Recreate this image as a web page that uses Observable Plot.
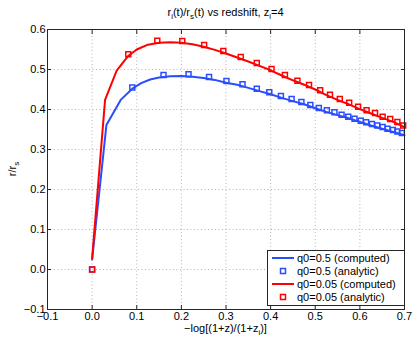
<!DOCTYPE html>
<html><head><meta charset="utf-8">
<script src="https://cdn.jsdelivr.net/npm/d3@7"></script>
<script src="https://cdn.jsdelivr.net/npm/@observablehq/plot@0.6"></script>
<style>body{margin:0;background:#fff} svg{display:block;overflow:visible}</style>
</head><body><div id="chart"></div>
<script>
const xTicks = [-0.1, 0, 0.1, 0.2, 0.3, 0.4, 0.5, 0.6, 0.7];
const yTicks = [-0.1, 0, 0.1, 0.2, 0.3, 0.4, 0.5, 0.6];

// q0=0.5 computed (blue line)
const blueLineX = [0, 0.032, 0.064, 0.090, 0.11, 0.13, 0.15, 0.175, 0.20, 0.225, 0.25, 0.275, 0.30, 0.325, 0.35, 0.375, 0.40, 0.425, 0.45, 0.475, 0.50, 0.525, 0.55, 0.575, 0.60, 0.625, 0.65, 0.675, 0.70];
const blueLineY = [0.025, 0.361, 0.424, 0.452, 0.466, 0.475, 0.480, 0.483, 0.484, 0.482, 0.479, 0.474, 0.467, 0.462, 0.454, 0.446, 0.438, 0.429, 0.421, 0.413, 0.403, 0.394, 0.386, 0.378, 0.369, 0.360, 0.352, 0.344, 0.336];
// q0=0.5 analytic (blue squares)
const blueDotX = [0, 0.090, 0.160, 0.216, 0.262, 0.301, 0.337, 0.369, 0.397, 0.423, 0.447, 0.469, 0.489, 0.508, 0.526, 0.543, 0.559, 0.574, 0.588, 0.602, 0.614, 0.627, 0.639, 0.651, 0.662, 0.674, 0.684, 0.694];
const blueDotY = [0, 0.455, 0.486, 0.488, 0.481, 0.471, 0.463, 0.452, 0.443, 0.434, 0.426, 0.419, 0.411, 0.404, 0.398, 0.393, 0.387, 0.382, 0.377, 0.372, 0.368, 0.364, 0.360, 0.356, 0.352, 0.349, 0.345, 0.341];
// q0=0.05 computed (red line)
const redLineX = [0, 0.029, 0.055, 0.080, 0.10, 0.125, 0.15, 0.175, 0.20, 0.225, 0.25, 0.275, 0.30, 0.325, 0.35, 0.375, 0.40, 0.425, 0.45, 0.475, 0.50, 0.525, 0.55, 0.575, 0.60, 0.625, 0.65, 0.675, 0.70];
const redLineY = [0.028, 0.424, 0.497, 0.533, 0.550, 0.562, 0.567, 0.568, 0.567, 0.563, 0.557, 0.549, 0.540, 0.530, 0.520, 0.509, 0.498, 0.485, 0.473, 0.462, 0.450, 0.436, 0.424, 0.413, 0.401, 0.390, 0.379, 0.369, 0.356];
// q0=0.05 analytic (red squares)
const redDotX = [0, 0.081, 0.146, 0.202, 0.251, 0.294, 0.333, 0.369, 0.402, 0.432, 0.460, 0.486, 0.511, 0.533, 0.555, 0.576, 0.596, 0.615, 0.634, 0.651, 0.668, 0.684, 0.697];
const redDotY = [0, 0.538, 0.572, 0.571, 0.561, 0.546, 0.531, 0.516, 0.501, 0.486, 0.472, 0.461, 0.448, 0.437, 0.426, 0.417, 0.407, 0.398, 0.391, 0.382, 0.376, 0.369, 0.360];

const legendLabels = ["q0=0.5 (computed)", "q0=0.5 (analytic)", "q0=0.05 (computed)", "q0=0.05 (analytic)"];
const legendKinds = ["line", "square", "line", "square"];
const BLUE = "#2a4cff", RED = "#ff0000";
const legendColors = [BLUE, BLUE, RED, RED];

const zip = (xs, ys) => xs.map((x, i) => ({x, y: ys[i]}));
const blueLine = zip(blueLineX, blueLineY), blueDots = zip(blueDotX, blueDotY);
const redLine = zip(redLineX, redLineY), redDots = zip(redDotX, redDotY);

const W = 415, H = 342, ML = 47, MR = 11, MT = 29, MB = 33;
const grid = {stroke: "#b4b4b4", strokeOpacity: 1, strokeDasharray: "1,2.5"};
const plot = Plot.plot({
  width: W, height: H, marginLeft: ML, marginRight: MR, marginTop: MT, marginBottom: MB,
  style: {fontFamily: "'Liberation Sans', Arial, sans-serif", fontSize: "11px", color: "#000", background: "#fff"},
  x: {domain: [-0.1, 0.7]},
  y: {domain: [-0.1, 0.6]},
  marks: [
    Plot.gridX(xTicks, grid),
    Plot.gridY(yTicks, grid),
    Plot.line(blueLine, {x: "x", y: "y", stroke: BLUE, strokeWidth: 2}),
    Plot.dot(blueDots, {x: "x", y: "y", symbol: "square", r: 2.8, stroke: BLUE, strokeWidth: 1.5, fill: "none"}),
    Plot.line(redLine, {x: "x", y: "y", stroke: RED, strokeWidth: 2}),
    Plot.dot(redDots, {x: "x", y: "y", symbol: "square", r: 2.8, stroke: RED, strokeWidth: 1.5, fill: "none"}),
    Plot.axisX(xTicks, {anchor: "bottom", tickSize: -4, tickPadding: 7, label: null, stroke: "#262626"}),
    Plot.axisX(xTicks, {anchor: "top", tickSize: -4, tickFormat: () => "", label: null, stroke: "#262626"}),
    Plot.axisY(yTicks, {anchor: "left", tickSize: -4, tickPadding: 6, label: null, stroke: "#262626"}),
    Plot.axisY(yTicks, {anchor: "right", tickSize: -4, tickFormat: () => "", label: null, stroke: "#262626"}),
    Plot.frame({stroke: "#262626"})
  ]
});
document.getElementById("chart").appendChild(plot);

const svg = d3.select(plot);
const ff = "'Liberation Sans', Arial, sans-serif";
const cx = (ML + W - MR) / 2;

// Title
const t = svg.append("text").attr("x", cx).attr("y", 16).attr("text-anchor", "middle")
  .attr("font-family", ff).attr("font-size", 11).attr("fill", "#000");
t.append("tspan").text("r");
t.append("tspan").attr("dy", 3).attr("font-size", 8).text("i");
t.append("tspan").attr("dy", -3).text("(t)/r");
t.append("tspan").attr("dy", 3).attr("font-size", 8).text("s");
t.append("tspan").attr("dy", -3).text("(t) vs redshift, z");
t.append("tspan").attr("dy", 3).attr("font-size", 8).text("i");
t.append("tspan").attr("dy", -3).text("=4");

// X label
const xl = svg.append("text").attr("x", cx).attr("y", 332).attr("text-anchor", "middle")
  .attr("font-family", ff).attr("font-size", 11).attr("fill", "#000");
xl.append("tspan").text("\u2212log[(1+z)/(1+z");
xl.append("tspan").attr("dy", 3).attr("font-size", 8).text("i");
xl.append("tspan").attr("dy", -3).text(")]");

// Y label
const yl = svg.append("text").attr("transform", `translate(16,${(MT + H - MB) / 2}) rotate(-90)`)
  .attr("text-anchor", "middle").attr("font-family", ff).attr("font-size", 11).attr("fill", "#000");
yl.append("tspan").text("r/r");
yl.append("tspan").attr("dy", 3).attr("font-size", 8).text("s");

// Legend
const lg = svg.append("g");
lg.append("rect").attr("x", 267.5).attr("y", 250.5).attr("width", 137).attr("height", 55)
  .attr("fill", "#fff").attr("stroke", "#262626");
legendLabels.forEach((lab, i) => {
  const y = 258 + i * 13;
  if (legendKinds[i] === "line") {
    lg.append("line").attr("x1", 272).attr("x2", 294).attr("y1", y).attr("y2", y)
      .attr("stroke", legendColors[i]).attr("stroke-width", 2);
  } else {
    lg.append("rect").attr("x", 280.5).attr("y", y - 2.5).attr("width", 5).attr("height", 5)
      .attr("fill", "none").attr("stroke", legendColors[i]).attr("stroke-width", 1.5);
  }
  lg.append("text").attr("x", 297).attr("y", y).attr("dy", "0.35em").attr("text-anchor", "start")
    .attr("font-family", ff).attr("font-size", 11).attr("fill", "#000").text(lab);
});
</script>
</body></html>
